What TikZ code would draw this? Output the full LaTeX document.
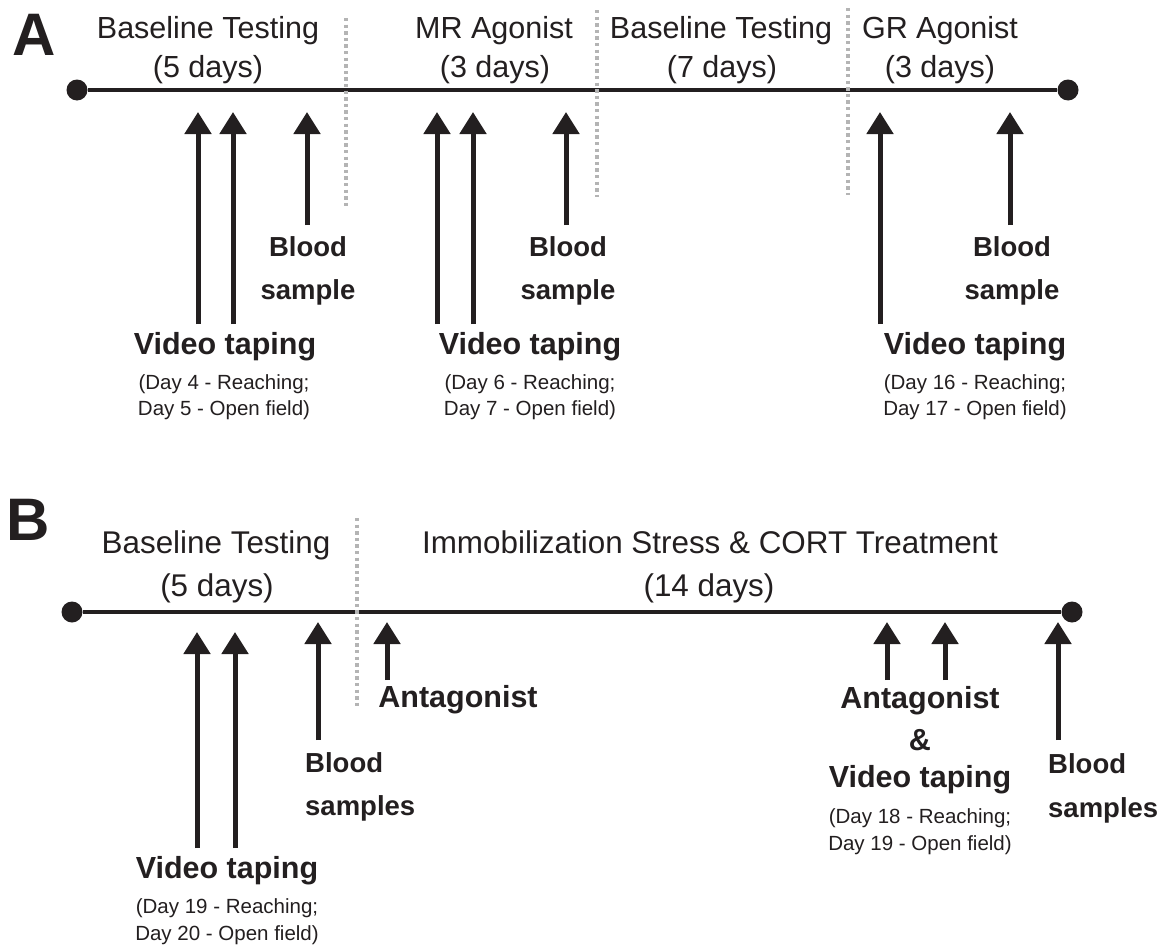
\documentclass[tikz,border=0pt]{standalone}
\usepackage{fontspec}
\setmainfont{Liberation Sans}
\usetikzlibrary{arrows.meta}
\definecolor{ink}{RGB}{35,31,32}
\definecolor{sepgray}{RGB}{180,180,180}

\begin{document}
\begin{tikzpicture}[x=1pt,y=-1pt,
	hdr/.style={anchor=base,inner sep=0pt,text=ink,font=\fontsize{30.5}{36}\selectfont},
	hdrb/.style={hdr,font=\fontsize{31.4}{37}\selectfont},
	lbl/.style={anchor=base,inner sep=0pt,text=ink,font=\fontsize{30.5}{36}\selectfont\bfseries},
	sml/.style={anchor=base,inner sep=0pt,text=ink,font=\fontsize{27.5}{33}\selectfont\bfseries},
	note/.style={anchor=base,inner sep=0pt,text=ink,font=\fontsize{20.5}{25}\selectfont},
	panel/.style={anchor=base west,inner sep=0pt,text=ink,font=\fontsize{60}{70}\selectfont\bfseries},
	axis/.style={ink,line width=4.5pt},
	upar/.style={ink,line width=5pt,-{Triangle[width=26pt,length=22pt]}},
	sepline/.style={sepgray,line width=3.3pt,dash pattern=on 3.3pt off 3.3pt},
	enddot/.style={circle,fill=ink,inner sep=0pt,minimum size=21pt}]
	\useasboundingbox[fill=white] (0,0) rectangle (1171,945);

	% panel A
	\node[panel] (pA) at (12,55) {A};
	\node[enddot] (lA) at (77,90) {};
	\node[enddot] (rA) at (1068,90) {};
	\draw[axis] (lA) -- (rA);

	\coordinate (sA1t) at (346,18);  \coordinate (sA1b) at (346,207);
	\coordinate (sA2t) at (597,10);  \coordinate (sA2b) at (597,197);
	\coordinate (sA3t) at (848,8);   \coordinate (sA3b) at (848,195);
	\draw[sepline] (sA1t) -- (sA1b);
	\draw[sepline] (sA2t) -- (sA2b);
	\draw[sepline] (sA3t) -- (sA3b);

	\node[hdr] (hA1) at (208,38) {Baseline Testing};
	\node[hdr] (hA1d) at (208,77) {(5 days)};
	\node[hdr] (hA2) at (494,38) {MR Agonist};
	\node[hdr] (hA2d) at (495,77) {(3 days)};
	\node[hdr] (hA3) at (721,38) {Baseline Testing};
	\node[hdr] (hA3d) at (722,77) {(7 days)};
	\node[hdr] (hA4) at (940,38) {GR Agonist};
	\node[hdr] (hA4d) at (940,77) {(3 days)};

	\coordinate (vA1) at (198,112);  \coordinate (vA1e) at (198,324);
	\coordinate (vA2) at (233,112);  \coordinate (vA2e) at (233,324);
	\coordinate (bA1) at (307,112);  \coordinate (bA1e) at (307,225);
	\coordinate (vA3) at (437,112);  \coordinate (vA3e) at (437,324);
	\coordinate (vA4) at (473,112);  \coordinate (vA4e) at (473,324);
	\coordinate (bA2) at (566,112);  \coordinate (bA2e) at (566,225);
	\coordinate (vA5) at (880,112);  \coordinate (vA5e) at (880,324);
	\coordinate (bA3) at (1010,112); \coordinate (bA3e) at (1010,225);
	\draw[upar] (vA1e) -- (vA1);
	\draw[upar] (vA2e) -- (vA2);
	\draw[upar] (bA1e) -- (bA1);
	\draw[upar] (vA3e) -- (vA3);
	\draw[upar] (vA4e) -- (vA4);
	\draw[upar] (bA2e) -- (bA2);
	\draw[upar] (vA5e) -- (vA5);
	\draw[upar] (bA3e) -- (bA3);

	\node[sml] (blA1) at (308,256) {Blood};
	\node[sml] (blA1s) at (308,299) {sample};
	\node[sml] (blA2) at (568,256) {Blood};
	\node[sml] (blA2s) at (568,299) {sample};
	\node[sml] (blA3) at (1012,256) {Blood};
	\node[sml] (blA3s) at (1012,299) {sample};

	\node[lbl] (vdA1) at (225,354) {Video taping};
	\node[note] (vdA1a) at (224,389) {(Day 4 - Reaching;};
	\node[note] (vdA1b) at (224,415) {Day 5 - Open field)};
	\node[lbl] (vdA2) at (530,354) {Video taping};
	\node[note] (vdA2a) at (530,389) {(Day 6 - Reaching;};
	\node[note] (vdA2b) at (530,415) {Day 7 - Open field)};
	\node[lbl] (vdA3) at (975,354) {Video taping};
	\node[note] (vdA3a) at (975,389) {(Day 16 - Reaching;};
	\node[note] (vdA3b) at (975,415) {Day 17 - Open field)};

	% panel B
	\node[panel] (pB) at (6,540) {B};
	\node[enddot] (lB) at (72,612) {};
	\node[enddot] (rB) at (1072,612) {};
	\draw[axis] (lB) -- (rB);

	\coordinate (sB1t) at (357,518); \coordinate (sB1b) at (357,707);
	\draw[sepline] (sB1t) -- (sB1b);

	\node[hdrb] (hB1) at (216,553) {Baseline Testing};
	\node[hdrb] (hB1d) at (217,596) {(5 days)};
	\node[hdrb] (hB2) at (710,553) {Immobilization Stress \& CORT Treatment};
	\node[hdrb] (hB2d) at (709,596) {(14 days)};

	\coordinate (vB1) at (197,632);  \coordinate (vB1e) at (197,848);
	\coordinate (vB2) at (235,632);  \coordinate (vB2e) at (235,848);
	\coordinate (bB1) at (318,622);  \coordinate (bB1e) at (318,740);
	\coordinate (aB1) at (387,622);  \coordinate (aB1e) at (387,680);
	\coordinate (aB2) at (887,622);  \coordinate (aB2e) at (887,680);
	\coordinate (aB3) at (945,622);  \coordinate (aB3e) at (945,680);
	\coordinate (bB2) at (1058,622); \coordinate (bB2e) at (1058,740);
	\draw[upar] (vB1e) -- (vB1);
	\draw[upar] (vB2e) -- (vB2);
	\draw[upar] (bB1e) -- (bB1);
	\draw[upar] (aB1e) -- (aB1);
	\draw[upar] (aB2e) -- (aB2);
	\draw[upar] (aB3e) -- (aB3);
	\draw[upar] (bB2e) -- (bB2);

	\node[lbl] (anB1) at (458,707) {Antagonist};
	\node[sml,anchor=base west] (blB1) at (305,772) {Blood};
	\node[sml,anchor=base west] (blB1s) at (305,815) {samples};
	\node[lbl] (vdB1) at (227,878) {Video taping};
	\node[note] (vdB1a) at (227,913) {(Day 19 - Reaching;};
	\node[note] (vdB1b) at (227,940) {Day 20 - Open field)};

	\node[lbl] (anB2) at (920,708) {Antagonist};
	\node[lbl] (anB2x) at (920,750) {\&};
	\node[lbl] (vdB2) at (920,787) {Video taping};
	\node[note] (vdB2a) at (920,823) {(Day 18 - Reaching;};
	\node[note] (vdB2b) at (920,850) {Day 19 - Open field)};
	\node[sml,anchor=base west] (blB2) at (1048,773) {Blood};
	\node[sml,anchor=base west] (blB2s) at (1048,817) {samples};
\end{tikzpicture}
\end{document}
